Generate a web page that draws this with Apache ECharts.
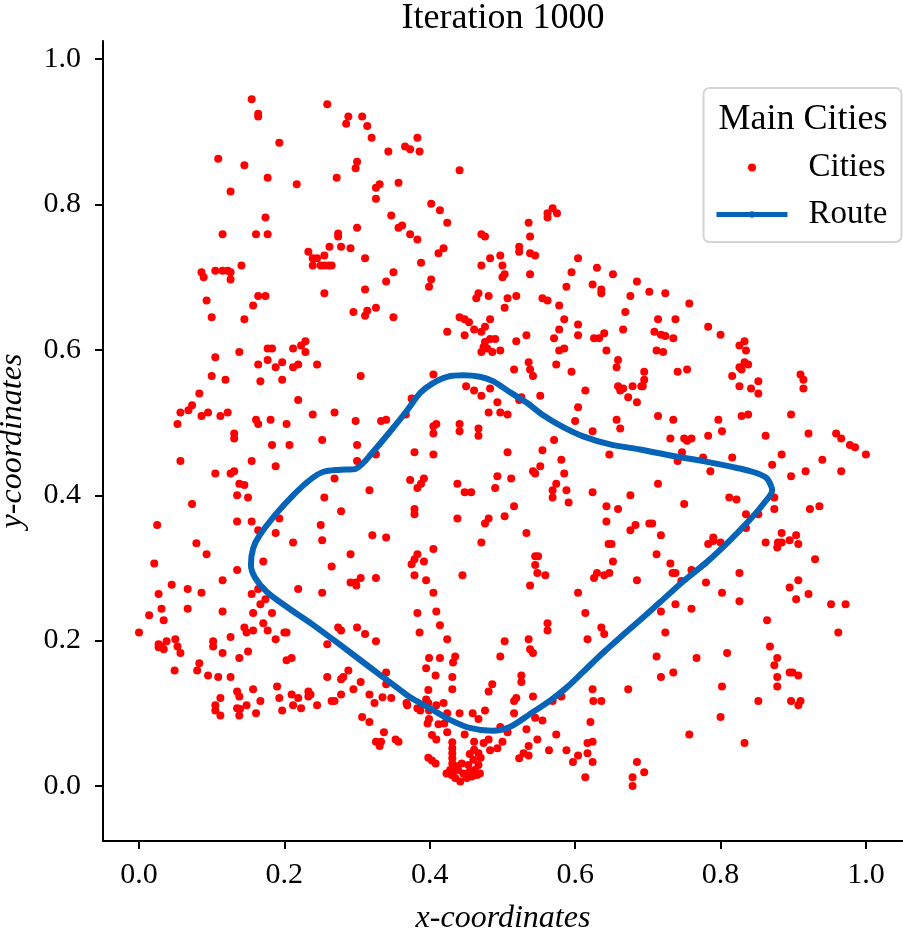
<!DOCTYPE html>
<html>
<head>
<meta charset="utf-8">
<style>html,body{margin:0;padding:0;background:#fff}#main{width:903px;height:934px}</style>
<script src="https://cdn.jsdelivr.net/npm/echarts@6/dist/echarts.min.js"></script>
</head>
<body>
<div id="main"></div>
<script>
var xTicks = [0, 0.2, 0.4, 0.6, 0.8, 1.0];
var yTicks = [0, 0.2, 0.4, 0.6, 0.8, 1.0];

// top left to bottom right
var cities = [
[.155,.945],[.259,.938],[.164,.925],[.164,.921],[.288,.921],[.285,.911],[.307,.921],[.314,.908],[.320,.892],[.193,.885],
[.109,.863],[.145,.854],[.300,.859],[.298,.850],[.177,.837],[.272,.837],[.217,.828],[.126,.818],[.174,.782],[.300,.768],
[.115,.759],[.161,.759],[.177,.759],[.274,.760],[.274,.756],[.233,.735],[.262,.742],[.278,.742],[.291,.740],[.255,.730],
[.239,.726],[.245,.726],[.311,.726],[.141,.716],[.239,.716],[.250,.716],[.255,.716],[.261,.716],[.265,.716],[.086,.707],
[.105,.709],[.115,.709],[.122,.709],[.126,.707],[.089,.700],[.126,.697],[.311,.683],[.255,.678],[.164,.674],[.174,.674],
[.093,.668],[.157,.661],[.295,.652],[.314,.654],[.311,.647],[.100,.645],[.145,.642],
[.383,.892],[.366,.880],[.373,.876],[.386,.873],[.343,.873],[.441,.847],[.357,.830],[.331,.828],[.326,.823],[.326,.808],
[.402,.801],[.414,.792],[.347,.785],[.424,.775],[.569,.795],[.562,.788],[.562,.782],[.575,.788],[.536,.775],[.357,.768],
[.362,.771],[.373,.759],[.383,.752],[.471,.759],[.476,.756],[.538,.756],[.523,.742],[.523,.735],[.419,.740],[.412,.733],
[.538,.733],[.545,.730],[.497,.730],[.483,.726],[.604,.726],[.388,.720],[.471,.716],[.500,.716],[.630,.713],[.350,.707],
[.595,.707],[.652,.704],[.538,.704],[.503,.704],[.500,.700],[.340,.694],[.402,.697],[.399,.687],[.685,.694],[.624,.690],
[.588,.687],[.636,.683],[.636,.678],[.467,.678],[.464,.671],[.481,.674],[.507,.671],[.519,.674],[.555,.671],[.562,.668],
[.676,.674],[.578,.661],[.326,.658],[.503,.658],[.669,.652],[.350,.645],[.441,.645],[.448,.642],[.454,.638],[.585,.642],
[.483,.642],[.476,.632],[.604,.635],[.461,.628],[.578,.628],[.666,.628],[.424,.625],[.471,.625],[.640,.623],[.448,.620],
[.604,.620],[.533,.620],
[.490,.615],[.483,.615],[.476,.611],[.479,.602],[.474,.604],[.471,.597],[.486,.597],[.497,.599],[.519,.612],[.571,.616],
[.626,.616],[.633,.616],[.578,.599],[.585,.602],[.643,.599],[.536,.583],[.538,.573],[.542,.564],[.516,.573],[.574,.580],
[.595,.570],[.659,.586],[.657,.576],[.405,.566],[.614,.544],[.450,.550],[.461,.544],[.471,.537],[.483,.547],[.659,.550],
[.666,.547],[.662,.544],[.679,.550],[.691,.550],[.552,.537],[.526,.535],[.523,.531],[.673,.535],[.685,.528],[.375,.533],
[.493,.528],[.604,.521],[.481,.514],[.497,.514],[.507,.511],[.367,.511],[.340,.504],[.333,.502],[.657,.504],[.600,.502],
[.662,.492],[.409,.498],[.405,.495],[.441,.498],[.467,.492],[.441,.488],[.405,.485],[.467,.482],[.624,.488],[.571,.476],
[.555,.462],[.379,.459],[.507,.459],[.405,.456],[.326,.456],[.647,.456],[.581,.449],[.552,.440],[.542,.433],[.545,.430],
[.585,.430],[.493,.426],[.512,.423],[.392,.423],[.373,.421],[.388,.416],[.383,.410],[.438,.416],[.574,.416],[.490,.410],
[.569,.407],[.448,.404],[.457,.404],[.588,.407],[.624,.404],[.676,.400],[.569,.397],[.591,.390],[.516,.385],[.643,.385],
[.659,.381],[.379,.381],[.379,.374],[.438,.368],[.481,.368],[.476,.361],[.503,.371],[.643,.364],[.683,.359],[.676,.352],
[.533,.348],[.321,.345],[.340,.342],[.471,.335],[.646,.333],[.650,.333],[.405,.326],[.383,.319],[.379,.312],[.392,.309],
[.375,.305],[.545,.316],[.549,.316],[.652,.309],[.545,.304],
[.702,.680],[.724,.678],[.757,.664],[.714,.642],[.738,.642],[.783,.632],[.709,.625],[.718,.621],[.724,.619],[.735,.616],
[.800,.621],[.833,.612],[.826,.606],[.835,.599],[.712,.599],[.721,.597],[.833,.583],[.838,.580],[.826,.576],[.829,.573],
[.754,.573],[.741,.570],[.695,.570],[.695,.559],[.816,.564],[.910,.566],[.914,.559],[.852,.557],[.693,.550],[.826,.550],
[.842,.547],[.914,.547],[.852,.540],[.838,.511],[.829,.509],[.897,.511],[.714,.509],[.735,.504],[.797,.504],[.802,.488],
[.862,.482],[.921,.485],[.959,.485],[.966,.478],[.783,.482],[.731,.478],[.750,.478],[.760,.478],[.754,.475],[.978,.469],
[.985,.466],[1.0,.456],[.747,.459],[.884,.456],[.776,.452],[.816,.452],[.741,.447],[.940,.449],[.871,.442],[.897,.426],
[.917,.433],[.966,.433],[.786,.433],[.714,.416],
[.812,.397],[.822,.394],[.750,.388],[.874,.397],[.874,.381],[.923,.381],[.936,.385],[.835,.374],[.852,.374],[.702,.361],
[.706,.361],[.718,.345],[.835,.355],[.884,.348],[.904,.345],[.895,.338],[.907,.333],[.884,.335],[.879,.335],[.878,.328],
[.862,.335],[.790,.342],[.783,.333],[.790,.337],[.800,.335],[.712,.319],[.930,.312],[.731,.306],[.760,.297],[.734,.293],
[.738,.293],[.826,.293],[.746,.282],[.780,.280],[.907,.283],[.895,.273],[.921,.264],[.802,.266],[.904,.257],[.826,.254],
[.738,.250],[.760,.244],[.952,.250],[.972,.250],[.718,.240],[.864,.228],[.724,.211],[.962,.211],[.868,.192],[.809,.183],
[.712,.178],[.878,.176],[.767,.176],[.874,.166],[.735,.156],[.895,.156],[.899,.156],[.907,.152],[.718,.150],[.878,.150],
[.802,.137],[.878,.137],[.852,.117],[.897,.117],[.910,.117],[.907,.111],[.800,.095],[.757,.071],[.833,.059],[.695,.019],
[.229,.612],[.223,.606],[.177,.602],[.183,.602],[.212,.602],[.138,.597],[.229,.597],[.105,.590],[.177,.586],[.197,.583],
[.164,.580],[.188,.576],[.212,.576],[.219,.580],[.245,.580],[.100,.564],[.119,.559],[.197,.559],[.167,.557],[.305,.564],
[.083,.540],[.219,.531],[.073,.524],[.068,.517],[.057,.514],[.095,.514],[.122,.514],[.086,.509],[.112,.509],[.239,.511],
[.269,.514],[.161,.504],[.181,.504],[.164,.498],[.203,.498],[.298,.502],[.053,.498],[.131,.485],[.131,.478],[.252,.476],
[.183,.469],[.207,.469],[.300,.469],[.057,.447],[.155,.447],[.300,.447],[.188,.440],[.105,.430],[.126,.430],[.131,.433],
[.269,.423],[.138,.416],[.145,.414],[.317,.407],[.135,.400],[.150,.397],[.255,.397],[.073,.388],[.278,.378],[.193,.368],
[.135,.364],[.155,.364],[.025,.359],[.250,.359],[.164,.352],[.188,.348],[.212,.335],[.252,.338],[.079,.334],[.093,.319],
[.291,.319],[.021,.306],[.171,.309],[.265,.302],
[.135,.297],[.115,.283],[.045,.277],[.067,.271],[.086,.266],[.027,.264],[.155,.264],[.164,.271],[.219,.271],[.252,.266],
[.305,.286],[.291,.280],[.298,.280],[.299,.276],[.174,.257],[.167,.250],[.031,.244],[.067,.244],[.115,.240],[.014,.235],
[.157,.238],[.183,.238],[.034,.228],[.171,.224],[.145,.218],[.274,.218],[.278,.214],[.300,.218],[.157,.214],[.177,.214],
[.148,.211],[.200,.211],[.203,.211],[.311,.209],[0,.211],[.126,.205],[.188,.202],[.050,.202],[.038,.199],[.102,.199],
[.027,.195],[.259,.195],[.053,.192],[.102,.192],[.027,.191],[.034,.188],[.031,.192],[.150,.185],[.057,.183],[.115,.183],
[.138,.176],[.210,.176],[.203,.173],[.083,.169],[.080,.159],[.049,.159],[.288,.159],[.095,.152],[.109,.150],[.126,.150],
[.259,.150],[.281,.150],[.278,.147],[.305,.143],[.190,.137],[.295,.133],[.157,.133],[.135,.130],[.233,.130],[.210,.126],
[.236,.126],[.233,.123],[.138,.123],[.278,.126],[.317,.126],[.112,.121],[.193,.121],[.219,.121],[.167,.117],[.265,.117],
[.269,.117],[.105,.111],[.148,.111],[.212,.111],[.245,.111],[.223,.107],[.135,.107],[.139,.106],[.105,.104],[.197,.104],
[.161,.100],[.112,.097],[.138,.097],[.307,.095],[.317,.088],
[.326,.286],[.379,.290],[.395,.283],[.445,.290],[.548,.293],[.559,.290],[.538,.276],[.405,.266],[.630,.293],[.626,.286],
[.640,.290],[.647,.293],[.685,.283],[.604,.266],[.383,.238],[.409,.240],[.614,.238],[.414,.221],[.386,.211],[.562,.224],
[.562,.214],[.636,.218],[.640,.209],[.326,.199],[.424,.202],[.503,.199],[.536,.202],[.617,.202],[.538,.188],[.542,.183],
[.399,.176],[.414,.176],[.435,.178],[.432,.170],[.497,.178],[.395,.162],[.340,.156],[.408,.152],[.431,.150],[.526,.152],
[.526,.143],[.340,.140],[.486,.140],[.398,.132],[.431,.133],[.481,.130],[.624,.133],[.673,.133],[.335,.122],[.347,.121],
[.324,.114],[.519,.121],[.516,.117],[.542,.123],[.581,.123],[.569,.117],[.625,.117],[.636,.117],[.395,.119],[.398,.114],
[.409,.111],[.419,.114],[.368,.114],[.369,.111],[.383,.107],[.387,.104],[.399,.104],[.424,.100],[.441,.100],[.459,.100],
[.476,.104],[.516,.100],[.467,.092],[.545,.094],[.555,.090],[.399,.092],[.397,.086],[.412,.085],[.420,.086],[.621,.088],
[.497,.081],[.533,.078],[.507,.074],[.337,.074],[.424,.074],[.448,.071],[.574,.071],[.403,.070],[.409,.064],[.461,.061],
[.481,.064],[.474,.059],[.500,.061],[.548,.064],[.353,.064],[.357,.061],[.326,.061],[.333,.061],[.331,.055],[.624,.061],
[.617,.059],[.536,.055],[.431,.060],[.493,.052],[.483,.049],[.564,.049],[.588,.049],[.617,.045],[.604,.042],[.529,.045],
[.536,.042],[.523,.038],[.398,.039],[.403,.035],[.408,.031],[.597,.033],[.624,.033],[.685,.033],[.614,.012],[.679,.012],[.679,0],
[.431,.052],[.431,.045],[.431,.038],[.431,.031],[.432,.027],[.455,.044],[.461,.050],[.467,.045],[.470,.039],[.460,.036],
[.453,.029],[.444,.031],[.437,.027],[.423,.017],[.430,.015],[.435,.011],[.442,.006],[.451,.011],[.458,.013],[.465,.015],
[.469,.017],[.446,.017],[.439,.022],[.432,.020],[.455,.020],[.462,.022],[.428,.022],[.467,.029]
];

// route as traced, closed back on the first point
var routeX = [.870,.863,.845,.816,.776,.735,.689,.648,.611,.583,.556,.534,.510,.487,.469,.446,.424,.404,.387,.369,.345,.318,.308,.297,.277,.253,.235,.212,.190,.166,.157,.154,.160,.176,.204,.239,.277,.318,.345,.373,.400,.428,.455,.486,.510,.538,.565,.589,.611,.638,.666,.689,.717,.748,.781,.813,.840,.858,.871,.870];
var routeY = [.412,.424,.432,.439,.447,.454,.463,.470,.481,.494,.510,.527,.542,.557,.563,.565,.563,.554,.541,.517,.487,.455,.444,.436,.435,.432,.421,.400,.376,.345,.327,.304,.286,.267,.246,.222,.194,.163,.143,.122,.107,.091,.080,.076,.081,.099,.117,.136,.157,.183,.208,.228,.253,.281,.308,.338,.366,.387,.407,.412];

var fontName = 'Liberation Serif';
var route = routeX.map(function (x, i) { return [x, routeY[i]]; });

var chart = echarts.init(document.getElementById('main'));
chart.setOption({
    animation: false,
    backgroundColor: '#fff',
    title: [
        {
            text: 'Iteration 1000',
            left: 498, top: -4,
            textAlign: 'center',
            textStyle: {fontFamily: fontName, fontSize: 36, fontWeight: 'normal', color: '#000'}
        },
        {
            text: 'Main Cities',
            left: 798, top: 97,
            textAlign: 'center',
            textStyle: {fontFamily: fontName, fontSize: 36, fontWeight: 'normal', color: '#000'},
            z: 20
        }
    ],
    grid: {left: 103, top: 41, right: 0, bottom: 93, outerBoundsMode: 'none'},
    xAxis: {
        type: 'value',
        min: -0.0495, max: 1.051,
        name: 'x-coordinates',
        nameLocation: 'middle',
        nameGap: 62,
        nameTextStyle: {fontFamily: fontName, fontStyle: 'italic', fontSize: 32, color: '#000'},
        axisLine: {onZero: false, lineStyle: {color: '#000', width: 2}},
        axisTick: {customValues: xTicks, length: 8, lineStyle: {color: '#000', width: 2}},
        axisLabel: {
            customValues: xTicks, margin: 19,
            fontFamily: fontName, fontSize: 30, color: '#000',
            formatter: function (v) { return v.toFixed(1); }
        },
        splitLine: {show: false}
    },
    yAxis: {
        type: 'value',
        min: -0.0757, max: 1.025,
        name: 'y-coordinates',
        nameLocation: 'middle',
        nameGap: 74,
        nameTextStyle: {fontFamily: fontName, fontStyle: 'italic', fontSize: 32, color: '#000'},
        axisLine: {onZero: false, lineStyle: {color: '#000', width: 2}},
        axisTick: {customValues: yTicks, length: 8, lineStyle: {color: '#000', width: 2}},
        axisLabel: {
            customValues: yTicks, margin: 22,
            fontFamily: fontName, fontSize: 30, color: '#000',
            formatter: function (v) { return v.toFixed(1); }
        },
        splitLine: {show: false}
    },
    legend: {
        orient: 'vertical',
        left: 714, top: 151,
        padding: 0,
        itemWidth: 71, itemHeight: 8, itemGap: 14,
        itemStyle: {borderWidth: 0},
        lineStyle: {width: 5},
        textStyle: {fontFamily: fontName, fontSize: 33, color: '#000', lineHeight: 32, padding: [0, 0, 0, 16]},
        data: ['Cities', 'Route'],
        z: 20
    },
    graphic: [{
        type: 'rect',
        shape: {x: 703.5, y: 88, width: 198, height: 154, r: 6},
        style: {fill: 'rgba(255,255,255,0.8)', stroke: '#d5d5d5', lineWidth: 2},
        z: 10
    }],
    series: [
        {
            name: 'Cities',
            type: 'scatter',
            data: cities,
            symbol: 'circle',
            symbolSize: 8,
            itemStyle: {color: '#ff0000', opacity: 1}
        },
        {
            name: 'Route',
            type: 'line',
            data: route,
            smooth: 0.3,
            showSymbol: false,
            symbol: 'none',
            lineStyle: {color: '#0563b8', width: 6},
            itemStyle: {color: '#0563b8'},
            z: 5
        }
    ]
});
</script>
</body>
</html>
